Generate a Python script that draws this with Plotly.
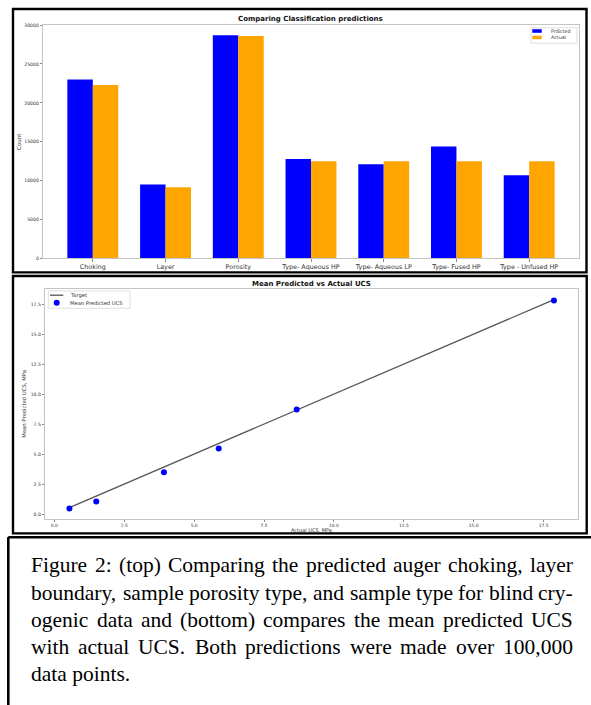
import plotly.graph_objects as go

# ---------------- data ----------------
categories = ["Choking", "Layer", "Porosity", "Type- Aqueous HP",
              "Type- Aqueous LP", "Type- Fused HP", "Type - Unfused HP"]
predicted_counts = [23000, 9500, 28700, 12800, 12100, 14400, 10700]
actual_counts = [22300, 9150, 28600, 12500, 12500, 12500, 12500]
count_ticks = [0, 5000, 10000, 15000, 20000, 25000, 30000]

actual_ucs = [0.54, 1.50, 3.92, 5.88, 8.67, 17.87]
mean_pred_ucs = [0.47, 1.05, 3.48, 5.46, 8.72, 17.80]
ucs_ticks = [0.0, 2.5, 5.0, 7.5, 10.0, 12.5, 15.0, 17.5]

caption_lines = [
    "Figure 2: (top) Comparing the predicted auger choking, layer",
    "boundary, sample porosity type, and sample type for blind cry-",
    "ogenic data and (bottom) compares the mean predicted UCS",
    "with actual UCS. Both predictions were made over 100,000",
    "data points.",
]

# ---------------- helpers ----------------
W, H = 591, 705
def X(px):
    return px / W
def Y(py):
    return 1 - py / H

SANS = "DejaVu Sans"
SERIF = "Liberation Serif"
SPINE = "#c4c4c4"
TXT = "#333333"

fig = go.Figure()

fig.add_trace(go.Bar(x=categories, y=predicted_counts, name="Prdicted",
                     marker=dict(color="#0000FF", line=dict(width=0)),
                     xaxis="x", yaxis="y", showlegend=False))
fig.add_trace(go.Bar(x=categories, y=actual_counts, name="Actual",
                     marker=dict(color="#FFA500", line=dict(width=0)),
                     xaxis="x", yaxis="y", showlegend=False))

fig.add_trace(go.Scatter(x=actual_ucs, y=actual_ucs, mode="lines", name="Target",
                         line=dict(color="#555555", width=1.3),
                         xaxis="x2", yaxis="y2", showlegend=False))
fig.add_trace(go.Scatter(x=actual_ucs, y=mean_pred_ucs, mode="markers",
                         name="Mean Predicted UCS",
                         marker=dict(color="#0000FF", size=6, line=dict(width=0)),
                         xaxis="x2", yaxis="y2", showlegend=False))

axis_common = dict(showline=True, linecolor=SPINE, linewidth=1, mirror=True,
                   ticks="outside", ticklen=2.2, tickwidth=0.8, tickcolor="#888888",
                   showgrid=False, zeroline=False)

fig.update_layout(
    width=W, height=H,
    margin=dict(l=0, r=0, t=0, b=0),
    paper_bgcolor="white", plot_bgcolor="white",
    barmode="group", bargap=0.3, bargroupgap=0,
    xaxis=dict(domain=[X(43), X(579)], anchor="y", range=[-0.685, 6.685],
               tickfont=dict(family=SANS, size=6.4, color=TXT), **axis_common),
    yaxis=dict(domain=[Y(258.3), Y(22.8)], anchor="x", range=[0, 30060],
               tickvals=count_ticks, ticktext=[str(v) for v in count_ticks],
               tickfont=dict(family=SANS, size=4.6, color=TXT), **axis_common),
    xaxis2=dict(domain=[X(45), X(578)], anchor="y2", range=[-0.333, 18.73],
                tickvals=ucs_ticks, ticktext=["%.1f" % v for v in ucs_ticks],
                tickfont=dict(family=SANS, size=4.4, color=TXT), **axis_common),
    yaxis2=dict(domain=[Y(520.7), Y(288.7)], anchor="x2", range=[-0.414, 18.79],
                tickvals=ucs_ticks, ticktext=["%.1f" % v for v in ucs_ticks],
                tickfont=dict(family=SANS, size=4.6, color=TXT), **axis_common),
)

ann = []
shapes = []

def text(px, py, s, size, color="#111111", weight="normal", angle=0,
         xanchor="center", family=SANS):
    ann.append(dict(x=X(px), y=Y(py), xref="paper", yref="paper", text=s,
                    showarrow=False, xanchor=xanchor, yanchor="middle",
                    textangle=angle, borderpad=0,
                    font=dict(family=family, size=size, color=color, weight=weight)))

# titles and axis labels
text(311, 16.7, "Comparing Classification predictions", 7, weight="bold")
text(18.5, 140.5, "Count", 5.5, color=TXT, angle=-90)
text(311.5, 283.7, "Mean Predicted vs Actual UCS", 7, weight="bold")
text(24, 404.7, "Mean Predicted UCS, MPa", 5.3, color=TXT, angle=-90)
text(311.5, 532.2, "Actual UCS, MPa", 5.0, color=TXT)

def rect(x0, y0, x1, y1, line_color, width, fill="rgba(0,0,0,0)"):
    shapes.append(dict(type="rect", xref="paper", yref="paper",
                       x0=X(x0), x1=X(x1), y0=Y(y0), y1=Y(y1),
                       line=dict(color=line_color, width=width), fillcolor=fill))

# legend (top)
rect(531, 26, 577, 41.5, "#d8d8d8", 0.8, "white")
rect(532.3, 27.4, 541.7, 31.0, "#0000FF", 0, "#0000FF")
rect(532.3, 34.0, 541.7, 37.5, "#FFA500", 0, "#FFA500")
text(550, 29.3, "Prdicted", 4.8, color=TXT, xanchor="left")
text(550, 35.8, "Actual", 4.8, color=TXT, xanchor="left")

# legend (bottom)
rect(48.3, 291, 130, 308.5, "#d8d8d8", 0.8, "white")
shapes.append(dict(type="line", xref="paper", yref="paper",
                   x0=X(50), x1=X(63.3), y0=Y(295.3), y1=Y(295.3),
                   line=dict(color="#555555", width=1.3)))
shapes.append(dict(type="circle", xref="paper", yref="paper",
                   x0=X(53.7), x1=X(59.7), y0=Y(300.0), y1=Y(306.0),
                   line=dict(width=0), fillcolor="#0000FF"))
text(68.5, 295.3, "Target", 5.2, color=TXT, xanchor="left")
text(68.5, 303.2, "Mean Predicted UCS", 5.2, color=TXT, xanchor="left")

# frame boxes
rect(13, 7, 586.5, 272.3, "black", 2.4)
rect(13, 276, 586.7, 535.2, "black", 2.4)
shapes.append(dict(type="line", xref="paper", yref="paper",
                   x0=X(8.3), x1=X(600), y0=Y(539), y1=Y(539),
                   line=dict(color="black", width=2.6)))
shapes.append(dict(type="line", xref="paper", yref="paper",
                   x0=X(8.3), x1=X(8.3), y0=Y(539), y1=Y(720),
                   line=dict(color="black", width=2.6)))

# caption, justified using Times/Liberation Serif advance widths
WID = {
    'a': 444, 'b': 500, 'c': 444, 'd': 500, 'e': 444, 'f': 333, 'g': 500, 'h': 500,
    'i': 278, 'j': 278, 'k': 500, 'l': 278, 'm': 778, 'n': 500, 'o': 500, 'p': 500,
    'q': 500, 'r': 333, 's': 389, 't': 278, 'u': 500, 'v': 500, 'w': 722, 'x': 500,
    'y': 500, 'z': 444, 'F': 556, 'C': 667, 'U': 722, 'S': 556, 'B': 667,
    ':': 278, ',': 250, '.': 250, '(': 333, ')': 333, '-': 333, ' ': 250,
}
for d in "0123456789":
    WID[d] = 500

FS = 21.5
LEFT, RIGHT = 30, 572
def wwidth(w):
    return sum(WID.get(c, 500) for c in w) / 1000 * FS

for i, line in enumerate(caption_lines):
    py = 567.5 + i * 27.3
    if i == len(caption_lines) - 1:
        text(LEFT, py, line, FS, color="black", xanchor="left", family=SERIF)
        continue
    words = line.split(" ")
    widths = [wwidth(w) for w in words]
    gap = (RIGHT - LEFT - sum(widths)) / (len(words) - 1)
    x = LEFT
    for w, wd in zip(words, widths):
        text(x, py, w, FS, color="black", xanchor="left", family=SERIF)
        x += wd + gap

fig.update_layout(annotations=ann, shapes=shapes)
fig.write_html("out.html", config={"displayModeBar": False},
               post_script="document.body.style.margin='0';document.body.style.overflow='hidden';")
